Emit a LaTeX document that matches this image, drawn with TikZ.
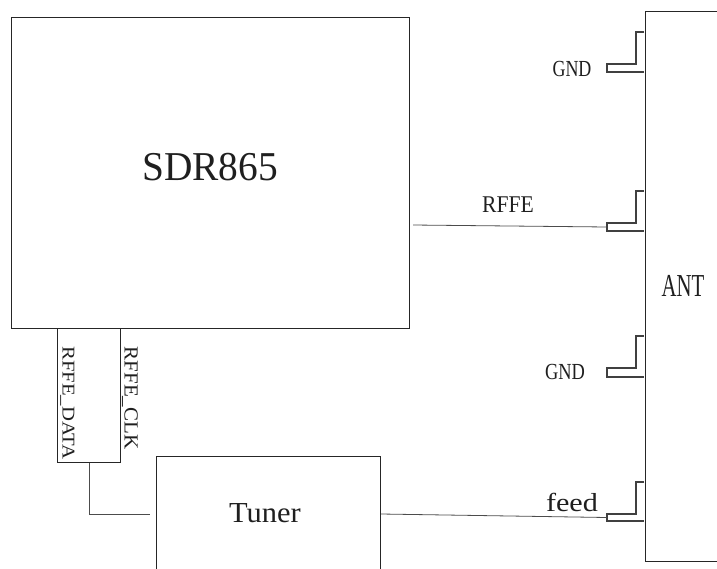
\documentclass[tikz,border=0pt]{standalone}
\usepackage{fontspec}
\setmainfont{Liberation Serif}
\begin{document}
\begin{tikzpicture}[x=1pt,y=-1pt,
  box/.style={draw=black!85, line width=1.1pt, inner sep=0pt},
  stub/.style={draw=black!75, line width=1.1pt},
  wire/.style={draw=black!70, line width=0.8pt},
  lbl/.style={inner sep=0pt, text=black!88}]
\useasboundingbox (0,0) rectangle (717,568);
\clip (0,0) rectangle (717,568);
% blocks
\node[box, anchor=north west, minimum width=398pt, minimum height=311pt] (sdr) at (11,17) {};
\node[lbl] (sdrtext) at (210,167) {\fontsize{41}{41}\selectfont\scalebox{0.96}[1]{SDR865}};
\node[box, line width=1pt, anchor=north west, minimum width=63pt, minimum height=134pt] (pins) at (57,328) {};
\node[box, anchor=north west, minimum width=224pt, minimum height=130pt] (tuner) at (156,456) {};
\node[lbl] (tunertext) at (265,513) {\fontsize{29}{29}\selectfont\scalebox{1.05}[1]{Tuner}};
\node[box, anchor=north west, minimum width=100pt, minimum height=550pt] (ant) at (644.5,11) {};
\node[lbl] (anttext) at (683,285.5) {\fontsize{32}{32}\selectfont\scalebox{0.65}[1]{ANT}};
% antenna stubs
\foreach \yt/\yh/\yb in {32/64/72, 191/223/231, 336/368/377, 482/514/521}{
  \draw[stub] (644,\yt) -- (636,\yt) -- (636,\yh) -- (607,\yh) -- (607,\yb) -- (644,\yb);
}
\coordinate (rffeS) at (607,227);
\coordinate (feedS) at (607,517.5);
\coordinate (rffeA) at (413,225);
\coordinate (tunerOut) at (381,514);
\coordinate (tunerIn) at (150,514);
% connectors
\draw[wire] (rffeA) -- (rffeS);
\draw[wire] (tunerOut) -- (feedS);
\draw[wire] (pins.south) |- (tunerIn);
% labels
\node[lbl] (gnd1) at (572,68.5) {\fontsize{23}{23}\selectfont\scalebox{0.78}[1]{GND}};
\node[lbl] (gnd2) at (565,372) {\fontsize{23}{23}\selectfont\scalebox{0.8}[1]{GND}};
\node[lbl] (rffe) at (508,205) {\fontsize{24}{24}\selectfont\scalebox{0.9}[1]{RFFE}};
\node[lbl] (feed) at (572,502) {\fontsize{26}{26}\selectfont\scalebox{1.16}[1]{feed}};
\node[lbl, rotate=-90] (rdata) at (67.5,403) {\fontsize{18}{18}\selectfont\scalebox{1.15}[1]{RFFE\_DATA}};
\node[lbl, rotate=-90] (rclk) at (130,398) {\fontsize{20}{20}\selectfont\scalebox{1.05}[1]{RFFE\_CLK}};
\end{tikzpicture}
\end{document}
